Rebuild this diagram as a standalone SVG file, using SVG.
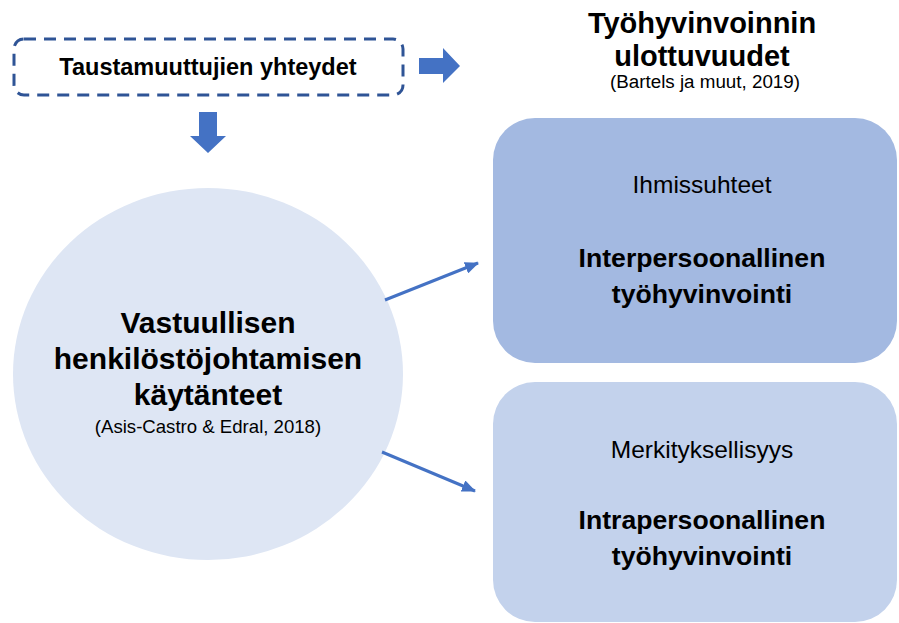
<svg xmlns="http://www.w3.org/2000/svg" width="899" height="623" viewBox="0 0 899 623">
<style>
  text { font-family: "Liberation Sans", Arial, sans-serif; fill: #000; text-anchor: middle; }
  .b { font-weight: bold; }
  .conn { stroke: #4472C4; stroke-width: 3; fill: none; }
  .blk { fill: #4472C4; }
</style>
<defs>
  <marker id="ah" markerUnits="userSpaceOnUse" markerWidth="14" markerHeight="12" refX="13" refY="6" orient="auto">
    <path d="M0,0 L14,6 L0,12 z" fill="#4472C4"/>
  </marker>
</defs>
<rect width="899" height="623" fill="#fff"/>

<g id="title">
  <text class="b" x="702" y="33" font-size="29">Työhyvinvoinnin</text>
  <text class="b" x="702" y="66" font-size="29">ulottuvuudet</text>
  <text x="705" y="88" font-size="18.8">(Bartels ja muut, 2019)</text>
</g>

<g id="taustamuuttujat">
  <rect x="14" y="39" width="389" height="56" rx="10" fill="#fff" stroke="#2F5496" stroke-width="3" stroke-dasharray="12 8"/>
  <text class="b" x="208" y="75" font-size="23.5">Taustamuuttujien yhteydet</text>
</g>

<g id="kaytanteet">
  <ellipse cx="208" cy="374" rx="195" ry="186" fill="#DEE6F4"/>
  <text class="b" x="208" y="333" font-size="30">Vastuullisen</text>
  <text class="b" x="208" y="369" font-size="30">henkilöstöjohtamisen</text>
  <text class="b" x="208" y="405" font-size="30">käytänteet</text>
  <text x="208" y="433" font-size="18.6">(Asis-Castro &amp; Edral, 2018)</text>
</g>

<g id="interpersoonallinen">
  <rect x="493" y="118" width="404" height="245" rx="42" fill="#A3B9E1"/>
  <text x="702" y="193" font-size="24.5">Ihmissuhteet</text>
  <text class="b" x="702" y="267" font-size="26.6">Interpersoonallinen</text>
  <text class="b" x="702" y="303" font-size="26.6">työhyvinvointi</text>
</g>

<g id="intrapersoonallinen">
  <rect x="493" y="382" width="404" height="240" rx="42" fill="#C3D2EC"/>
  <text x="702" y="458" font-size="24.5">Merkityksellisyys</text>
  <text class="b" x="702" y="529" font-size="26.6">Intrapersoonallinen</text>
  <text class="b" x="702" y="565" font-size="26.6">työhyvinvointi</text>
</g>

<g id="connectors">
  <polygon class="blk" points="419,58 443,58 443,48 460,66 443,83 443,74 419,74"/>
  <polygon class="blk" points="199,112 217,112 217,136 226,136 208,153 190,136 199,136"/>
  <line class="conn" x1="385" y1="300" x2="478" y2="263" marker-end="url(#ah)"/>
  <line class="conn" x1="382" y1="452" x2="475" y2="491" marker-end="url(#ah)"/>
</g>
</svg>
